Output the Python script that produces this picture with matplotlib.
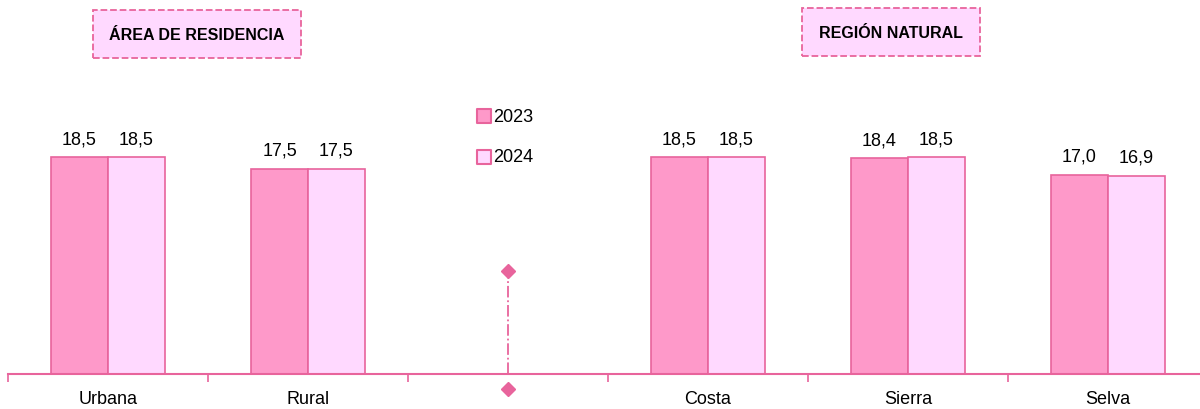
import numpy as np
import matplotlib.pyplot as plt

categorias = ["Urbana", "Rural", "", "Costa", "Sierra", "Selva"]
valores_2023 = [18.5, 17.5, None, 18.5, 18.4, 17.0]
valores_2024 = [18.5, 17.5, None, 18.5, 18.5, 16.9]
anios = ["2023", "2024"]

col_2023 = "#fe99c9"
col_2024 = "#ffd9ff"
borde = "#e8649c"

plt.rcParams['font.family'] = ['Liberation Sans', 'DejaVu Sans']

fig = plt.figure(figsize=(12, 4.1), dpi=100)
ax = fig.add_axes([8 / 1200, 35 / 410, 1.0, 375 / 410])

x = np.arange(len(categorias))
w = 0.285
for i in range(len(categorias)):
    if valores_2023[i] is None:
        continue
    ax.bar(x[i] - w / 2, valores_2023[i], w, color=col_2023, edgecolor=borde, linewidth=1.2)
    ax.bar(x[i] + w / 2, valores_2024[i], w, color=col_2024, edgecolor=borde, linewidth=1.2)
    for v, xx in [(valores_2023[i], x[i] - w / 2), (valores_2024[i], x[i] + w / 2)]:
        ax.text(xx, v + 0.85, f"{v:.1f}".replace(".", ","), ha="center", va="bottom", fontsize=13)

ax.set_xlim(-0.5, 5.5)
ax.set_ylim(0, 375 / 11.73)

for s in ["top", "right", "left"]:
    ax.spines[s].set_visible(False)
ax.spines["bottom"].set_color(borde)
ax.spines["bottom"].set_linewidth(1.5)
ax.set_yticks([])
ax.set_xticks(np.arange(-0.5, 6, 1))
ax.set_xticklabels([])
ax.tick_params(axis="x", length=6, width=1.2, color=borde, direction="out")
for i, c in enumerate(categorias):
    ax.text(x[i], -1.35, c, ha="center", va="top", fontsize=13, clip_on=False)

# separador
ax.plot([2, 2], [0, 8.8], color=borde, linestyle="-.", linewidth=1.3, clip_on=False)
ax.plot([2], [8.8], marker="D", color=borde, markersize=7, clip_on=False)
ax.plot([2], [-1.3], marker="D", color=borde, markersize=7, clip_on=False)

# leyenda manual
for j, (a, c) in enumerate(zip(anios, [col_2023, col_2024])):
    yy = 1 - (117 + 41 * j) / 375
    ax.scatter([(484 - 8) / 1200], [yy], marker="s", s=90, facecolor=c, edgecolor=borde,
               linewidth=1.5, transform=ax.transAxes, clip_on=False, zorder=5)
    ax.text((493 - 8) / 1200, yy, a, ha="left", va="center", fontsize=13, transform=ax.transAxes)

# titulos
caja = dict(boxstyle="square,pad=1.05", facecolor="#ffd9ff", edgecolor=borde, linestyle="--", linewidth=1.3)
fig.text(197 / 1200, 1 - 35 / 410, "ÁREA DE RESIDENCIA", ha="center", va="center",
         fontsize=11.5, fontweight="bold", bbox=caja)
fig.text(891 / 1200, 1 - 33 / 410, "REGIÓN NATURAL", ha="center", va="center",
         fontsize=11.5, fontweight="bold", bbox=caja)

fig.savefig("out.png", dpi=100)
